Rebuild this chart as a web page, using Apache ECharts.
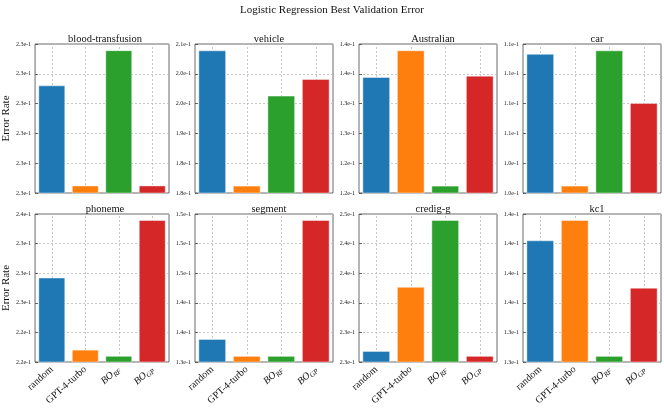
<!DOCTYPE html>
<html><head><meta charset="utf-8">
<script src="https://cdn.jsdelivr.net/npm/echarts@6/dist/echarts.min.js"></script>
<style>html,body{margin:0;padding:0;background:#fff}#c{width:664px;height:410px}</style>
</head><body><div id="c"></div>
<script>
const datasets = ['blood-transfusion','vehicle','Australian','car','phoneme','segment','credig-g','kc1'];
const methods = ['random','GPT-4-turbo','BO_RF','BO_GP'];
const randomVals = [0.23161, 0.20934, 0.13556, 0.11200, 0.23048, 0.13541, 0.22948, 0.14186];
const gptVals    = [0.22825, 0.17847, 0.13914, 0.10139, 0.22195, 0.13290, 0.23814, 0.14351];
const boRfVals   = [0.23279, 0.19900, 0.12098, 0.11228, 0.22122, 0.13290, 0.24718, 0.13249];
const boGpVals   = [0.22825, 0.20281, 0.13574, 0.10805, 0.23728, 0.15310, 0.22882, 0.13802];
const yMins      = [0.228, 0.1768, 0.120, 0.1008, 0.2205, 0.132, 0.228, 0.132];
const yIntervals = [0.001, 0.0068, 0.004, 0.0024, 0.0035, 0.0044, 0.004, 0.0024];
const colors = ['#1f77b4','#ff7f0e','#2ca02c','#d62728'];

const F = 'Liberation Serif';
const gridLefts = [31,195,359,523], gridW = 138, gridTops = [44,214], gridHs = [149,148];
const grids = [], xAxes = [], yAxes = [], series = [];
const titles = [{text:'Logistic Regression Best Validation Error', left:'center', top:0,
  textStyle:{fontFamily:F, fontSize:11, fontWeight:'normal', color:'#111'}}];
const gridLine = {type:[2,2], color:'#b8b8b8', width:0.8};

datasets.forEach((name,i)=>{
  const r = Math.floor(i/4), c = i%4;
  const vals = [randomVals[i], gptVals[i], boRfVals[i], boGpVals[i]];
  const mn = yMins[i], itv = yIntervals[i];
  const mx = +(mn + 5*itv).toFixed(6);
  grids.push({left:gridLefts[c], top:gridTops[r], width:gridW, height:gridHs[r], show:true,
    borderColor:'#444', borderWidth:0.8, backgroundColor:'transparent'});
  titles.push({text:name, left:gridLefts[c]+gridW/2, top:gridTops[r]-15, textAlign:'center',
    textStyle:{fontFamily:F, fontSize:10.5, fontWeight:'normal', color:'#111'}});
  xAxes.push({type:'category', gridIndex:i, data:methods,
    axisLine:{show:false},
    axisTick:{show:true, inside:true, alignWithLabel:true, length:3, lineStyle:{color:'#444', width:0.8}},
    axisLabel:{show:r===1, rotate:42, interval:0, margin:6, fontFamily:F, fontSize:10, color:'#111',
      formatter:v=> v.startsWith('BO_') ? '{m|BO}{s|'+v.slice(3)+'}' : v,
      rich:{m:{fontFamily:F, fontStyle:'italic', fontSize:10, color:'#111', lineHeight:13},
            s:{fontFamily:F, fontStyle:'italic', fontSize:7, color:'#111', lineHeight:7, verticalAlign:'bottom'}}},
    splitLine:{show:false}});
  yAxes.push({type:'value', gridIndex:i, min:mn, max:mx, interval:itv,
    axisLine:{show:false},
    axisTick:{show:true, inside:true, length:3, lineStyle:{color:'#444', width:0.8}},
    axisLabel:{fontFamily:F, fontSize:6, color:'#222', margin:4, formatter:v=>v.toExponential(1)},
    splitLine:{show:true, lineStyle:gridLine},
    name: c===0 ? 'Error Rate' : '', nameLocation:'middle', nameGap:16, nameRotate:90,
    nameTextStyle:{fontFamily:F, fontSize:11, color:'#111'}});
  series.push({type:'bar', xAxisIndex:i, yAxisIndex:i, barCategoryGap:'20%', z:3,
    data: vals.map((v,k)=>({value:v, itemStyle:{color:colors[k], borderColor:'rgba(255,255,255,0.55)', borderWidth:0.8}})),
    markLine:{silent:true, symbol:'none', z:1, animation:false, label:{show:false},
      emphasis:{disabled:true}, lineStyle:gridLine, data: methods.map(m=>({xAxis:m}))}});
});

const chart = echarts.init(document.getElementById('c'), null, {renderer:'canvas'});
chart.setOption({animation:false, backgroundColor:'#fff', title:titles, grid:grids, xAxis:xAxes, yAxis:yAxes, series:series});
</script></body></html>
